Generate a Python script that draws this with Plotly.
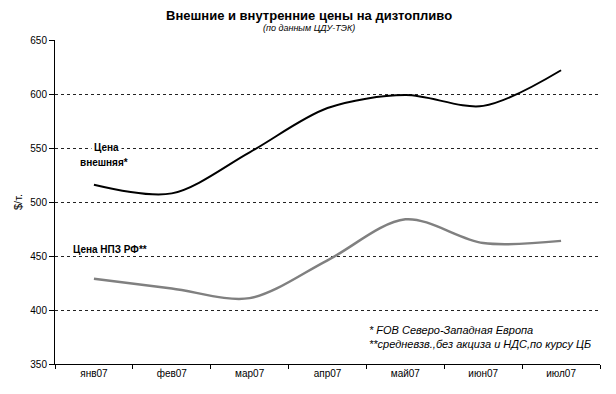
import plotly.graph_objects as go

months = ["янв07", "фев07", "мар07", "апр07", "май07", "июн07", "июл07"]
external_price = [516, 508, 546, 587, 599, 589, 622]
refinery_price = [429, 420, 411, 446, 484, 462, 464]
y_ticks = [350, 400, 450, 500, 550, 600, 650]

FONT = "Liberation Sans, Arial, sans-serif"

fig = go.Figure()
fig.add_trace(go.Scatter(x=months, y=refinery_price, mode="lines",
                         line=dict(color="#808080", width=2.5, shape="spline", smoothing=0.9),
                         showlegend=False, hoverinfo="skip"))
fig.add_trace(go.Scatter(x=months, y=external_price, mode="lines",
                         line=dict(color="#000000", width=2, shape="spline", smoothing=0.9),
                         showlegend=False, hoverinfo="skip"))

L, R, T, B = 55, 600, 40, 364
W, H = R - L, B - T

def px(x):
    return (x - L) / W

def py(y):
    return (B - y) / H

fig.update_layout(
    width=616, height=394,
    margin=dict(l=L, r=616 - R, t=T, b=394 - B, autoexpand=False),
    paper_bgcolor="white", plot_bgcolor="white",
    font=dict(family=FONT, size=10, color="black"),
    xaxis=dict(type="category", range=[-0.5, 6.5], showline=True, linecolor="black", linewidth=1,
               ticks="outside", tickson="boundaries", ticklen=4, tickcolor="black",
               showgrid=False, tickfont=dict(size=10), fixedrange=True, automargin=False),
    yaxis=dict(range=[350, 650], tickvals=y_ticks, showline=True, linecolor="black", linewidth=1,
               ticks="outside", ticklen=5, tickcolor="black",
               showgrid=True, gridcolor="#222222", griddash="3px,3px", gridwidth=1,
               zeroline=False, tickfont=dict(size=10), automargin=False, fixedrange=True,
               title=dict(text="$/т.", font=dict(size=11), standoff=5)),
    annotations=[
        dict(text="<b>Внешние и внутренние цены на дизтопливо</b>", xref="paper", yref="paper",
             x=px(309), y=py(15), xanchor="center", yanchor="middle", showarrow=False,
             font=dict(size=13)),
        dict(text="<i>(по данным ЦДУ-ТЭК)</i>", xref="paper", yref="paper",
             x=px(309), y=py(28), xanchor="center", yanchor="middle", showarrow=False,
             font=dict(size=9)),
        dict(text="<b>Цена</b>", xref="paper", yref="paper", x=px(106), y=py(147),
             xanchor="center", yanchor="middle", showarrow=False, font=dict(size=10),
             bgcolor="white", borderpad=2),
        dict(text="<b>внешняя*</b>", xref="paper", yref="paper", x=px(104), y=py(162),
             xanchor="center", yanchor="middle", showarrow=False, font=dict(size=10),
             bgcolor="white", borderpad=0),
        dict(text="<b>Цена НПЗ РФ**</b>", xref="paper", yref="paper", x=px(72), y=py(249),
             xanchor="left", yanchor="middle", showarrow=False, font=dict(size=10),
             bgcolor="white", borderpad=0),
        dict(text="<i>* FOB Северо-Западная Европа</i>", xref="paper", yref="paper",
             x=px(367), y=py(330), xanchor="left", yanchor="middle",
             showarrow=False, font=dict(size=11)),
        dict(text="<i>**средневзв.,без акциза и НДС,по курсу ЦБ</i>", xref="paper", yref="paper",
             x=px(367), y=py(344), xanchor="left", yanchor="middle",
             showarrow=False, font=dict(size=11)),
    ],
)

fig.write_html("out.html", config={"displayModeBar": False, "staticPlot": True},
               post_script="document.body.style.margin='0';")
